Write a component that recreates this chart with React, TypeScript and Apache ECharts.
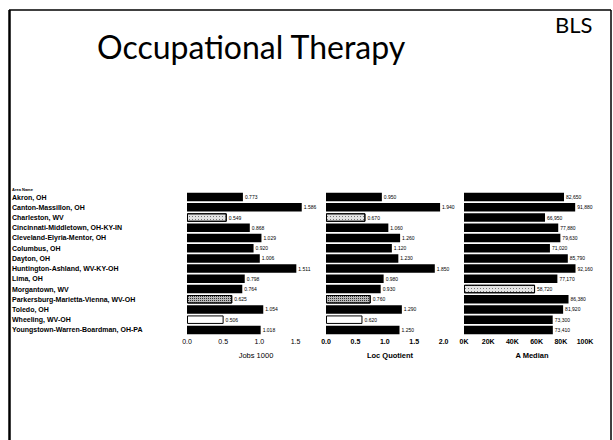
import React, { useEffect, useRef } from "react";
import * as echarts from "echarts";

const categories = [
  "Akron, OH",
  "Canton-Massillon, OH",
  "Charleston, WV",
  "Cincinnati-Middletown, OH-KY-IN",
  "Cleveland-Elyria-Mentor, OH",
  "Columbus, OH",
  "Dayton, OH",
  "Huntington-Ashland, WV-KY-OH",
  "Lima, OH",
  "Morgantown, WV",
  "Parkersburg-Marietta-Vienna, WV-OH",
  "Toledo, OH",
  "Wheeling, WV-OH",
  "Youngstown-Warren-Boardman, OH-PA",
];
const jobs1000 = [0.773, 1.586, 0.549, 0.868, 1.029, 0.92, 1.006, 1.511, 0.798, 0.764, 0.625, 1.054, 0.506, 1.018];
const locQuotient = [0.95, 1.94, 0.67, 1.06, 1.26, 1.12, 1.23, 1.85, 0.98, 0.93, 0.76, 1.29, 0.62, 1.25];
const annualMedian = [82650, 91880, 66950, 77880, 79630, 71020, 85790, 92160, 77170, 58720, 86380, 81920, 73300, 73410];
const jobsTicks = ["0.0", "0.5", "1.0", "1.5"];
const lqTicks = ["0.0", "0.5", "1.0", "1.5", "2.0"];
const medianTicks = ["0K", "20K", "40K", "60K", "80K", "100K"];

const FONT = "Liberation Sans, Arial, sans-serif";

// style of special (patterned / hollow) bars, by row index
const jobsSpecial: Record<number, string> = { 2: "light", 10: "dark", 12: "hollow" };
const lqSpecial: Record<number, string> = { 2: "light", 10: "dark", 12: "hollow" };
const medianSpecial: Record<number, string> = { 9: "light" };

function styleFor(kind?: string) {
  if (kind === "light")
    return {
      color: "#e4e4e4",
      borderColor: "#000",
      borderWidth: 1,
      decal: { symbol: "rect", symbolSize: 1, color: "#777", dashArrayX: [1, 2], dashArrayY: [1, 2], rotation: 0 },
    };
  if (kind === "dark")
    return {
      color: "#b8b8b8",
      borderColor: "#000",
      borderWidth: 1,
      decal: { symbol: "rect", symbolSize: 1, color: "#333", dashArrayX: [1, 1], dashArrayY: [1, 1], rotation: 0 },
    };
  if (kind === "hollow") return { color: "#fff", borderColor: "#000", borderWidth: 1 };
  return { color: "#000" };
}

export default function App() {
  const ref = useRef<HTMLDivElement>(null);
  useEffect(() => {
    if (!ref.current) return;
    const chart = echarts.init(ref.current, null, { renderer: "svg" });
    const gridTop = 192;
    const gridH = 143;
    const grids = [
      { left: 187, top: gridTop, width: 123, height: gridH },
      { left: 326, top: gridTop, width: 123.5, height: gridH },
      { left: 464, top: gridTop, width: 121, height: gridH },
    ];
    const baseX = {
      type: "value" as const,
      axisLine: { show: false },
      axisTick: { show: false },
      splitLine: { show: false },
    };
    const labelStyle = { fontSize: 7, color: "#000", fontFamily: FONT, margin: 3 };
    const yBase = {
      type: "category" as const,
      data: categories,
      inverse: true,
      axisLine: { show: false },
      axisTick: { show: false },
      splitLine: { show: false },
    };
    const valueLabel = (fmt: (v: number) => string) => ({
      show: true,
      position: "right" as const,
      distance: 2,
      fontSize: 5,
      color: "#000",
      fontFamily: FONT,
      formatter: (p: any) => fmt(p.value),
    });
    const option: any = {
      animation: false,
      backgroundColor: "#fff",
      grid: grids,
      xAxis: [
        {
          ...baseX,
          gridIndex: 0,
          min: 0,
          max: 1.7,
          interval: 0.5,
          axisLabel: {
            ...labelStyle,
            showMaxLabel: false,
            formatter: (v: number) => jobsTicks[Math.round(v / 0.5)] ?? "",
          },
        },
        {
          ...baseX,
          gridIndex: 1,
          min: 0,
          max: 2.1,
          interval: 0.5,
          axisLabel: {
            ...labelStyle,
            fontWeight: "bold",
            showMaxLabel: false,
            formatter: (v: number) => lqTicks[Math.round(v / 0.5)] ?? "",
          },
        },
        {
          ...baseX,
          gridIndex: 2,
          min: 0,
          max: 100000,
          interval: 20000,
          axisLabel: {
            ...labelStyle,
            fontWeight: "bold",
            formatter: (v: number) => medianTicks[Math.round(v / 20000)] ?? "",
          },
        },
      ],
      yAxis: [
        {
          ...yBase,
          gridIndex: 0,
          axisLabel: {
            show: true,
            align: "left",
            margin: 175,
            fontSize: 7,
            fontWeight: "bold",
            color: "#000",
            fontFamily: FONT,
          },
        },
        { ...yBase, gridIndex: 1, axisLabel: { show: false } },
        { ...yBase, gridIndex: 2, axisLabel: { show: false } },
      ],
      series: [
        {
          type: "bar",
          xAxisIndex: 0,
          yAxisIndex: 0,
          barWidth: 8.5,
          data: jobs1000.map((v, i) => ({ value: v, itemStyle: styleFor(jobsSpecial[i]) })),
          label: valueLabel((v) => v.toFixed(3)),
        },
        {
          type: "bar",
          xAxisIndex: 1,
          yAxisIndex: 1,
          barWidth: 8.5,
          data: locQuotient.map((v, i) => ({ value: v, itemStyle: styleFor(lqSpecial[i]) })),
          label: valueLabel((v) => v.toFixed(3)),
        },
        {
          type: "bar",
          xAxisIndex: 2,
          yAxisIndex: 2,
          barWidth: 8.5,
          data: annualMedian.map((v, i) => ({ value: v, itemStyle: styleFor(medianSpecial[i]) })),
          label: valueLabel((v) => v.toLocaleString("en-US")),
        },
      ],
      graphic: [
        { type: "line", shape: { x1: 9.5, y1: 10, x2: 9.5, y2: 440 }, style: { stroke: "#000", lineWidth: 2.5 } },
        { type: "line", shape: { x1: 9, y1: 10, x2: 611, y2: 10 }, style: { stroke: "#000", lineWidth: 1.5 } },
        { type: "line", shape: { x1: 611, y1: 10, x2: 611, y2: 440 }, style: { stroke: "#000", lineWidth: 1.5 } },
        {
          type: "text",
          x: 97,
          y: 30,
          style: {
            text: "Occupational Therapy",
            font: "32px Lato, 'Open Sans', sans-serif",
            fill: "#000",
            textVerticalAlign: "top",
          },
        },
        {
          type: "text",
          x: 555,
          y: 13,
          style: {
            text: "BLS",
            font: "22px Lato, 'Open Sans', sans-serif",
            fill: "#000",
            textVerticalAlign: "top",
          },
        },
        {
          type: "text",
          x: 12,
          y: 189,
          style: { text: "Area Name", font: "bold 4px " + FONT, fill: "#000", textVerticalAlign: "middle" },
        },
        {
          type: "text",
          x: 256,
          y: 355,
          style: { text: "Jobs 1000", font: "7.5px " + FONT, fill: "#000", textAlign: "center", textVerticalAlign: "middle" },
        },
        {
          type: "text",
          x: 390,
          y: 355,
          style: { text: "Loc Quotient", font: "bold 7.5px " + FONT, fill: "#000", textAlign: "center", textVerticalAlign: "middle" },
        },
        {
          type: "text",
          x: 532,
          y: 355,
          style: { text: "A Median", font: "bold 7.5px " + FONT, fill: "#000", textAlign: "center", textVerticalAlign: "middle" },
        },
      ],
    };
    chart.setOption(option);
    return () => chart.dispose();
  }, []);
  return (
    <div
      ref={ref}
      style={{ position: "fixed", left: 0, top: 0, width: 613, height: 440, background: "#fff" }}
    />
  );
}
